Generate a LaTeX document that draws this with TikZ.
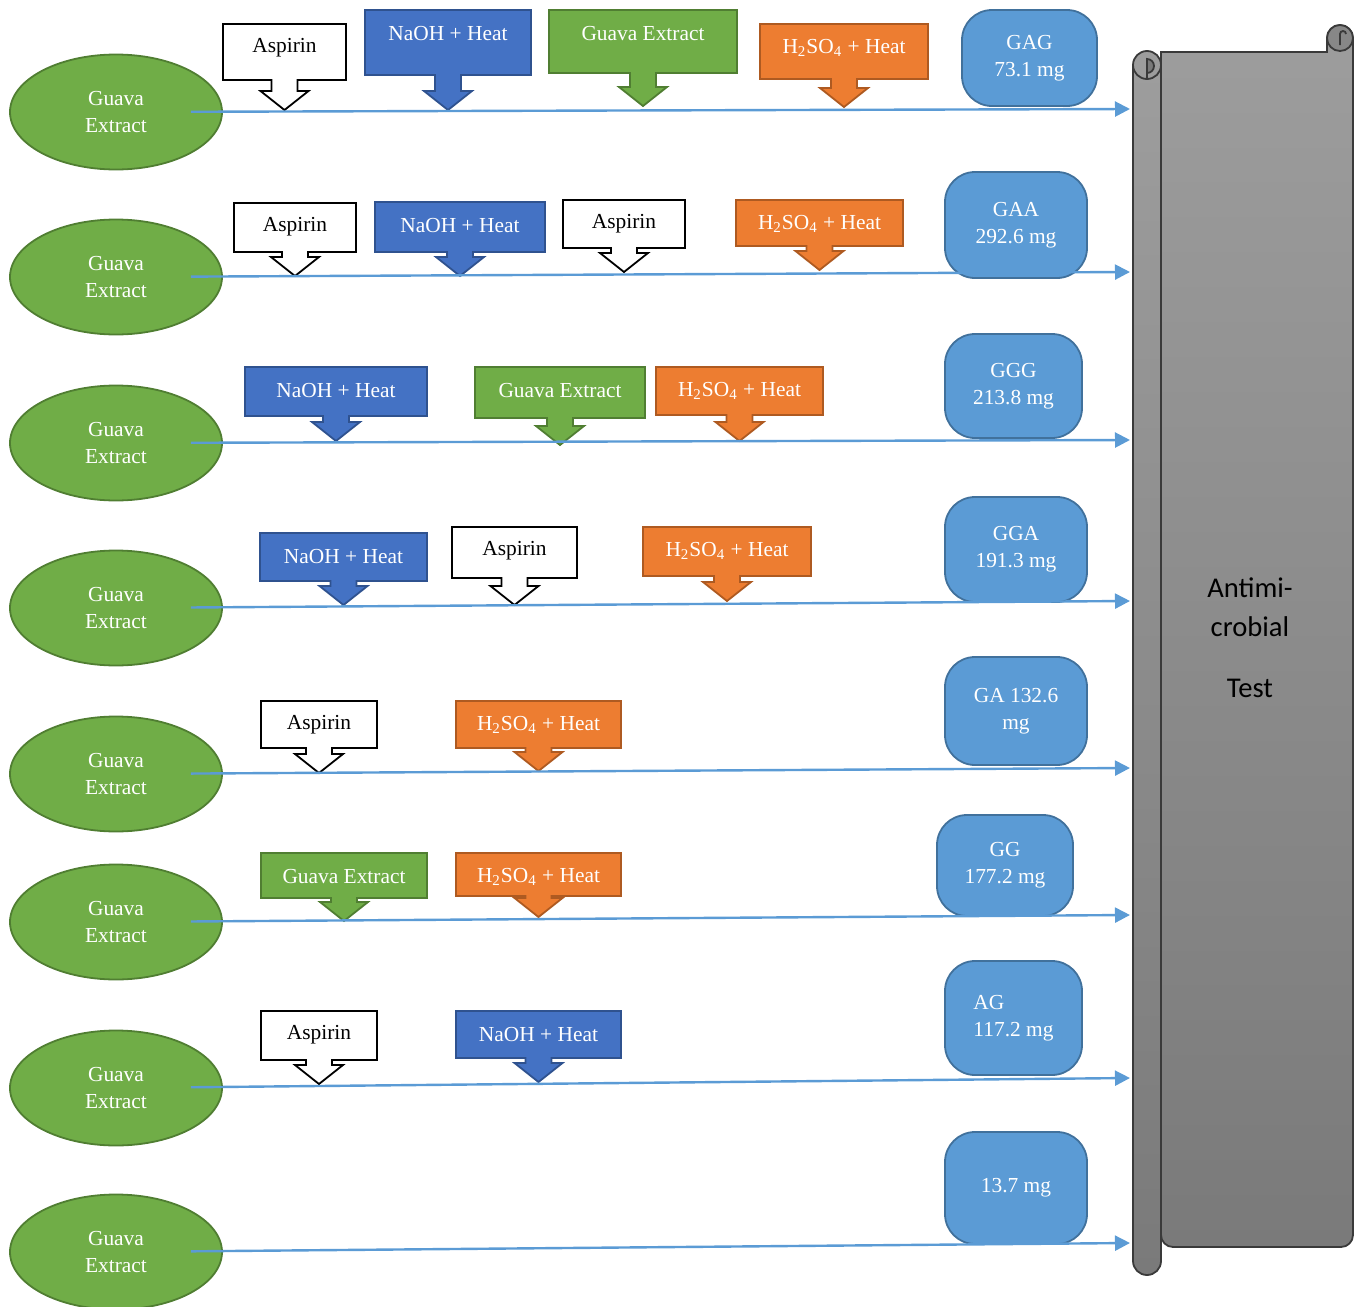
\documentclass[tikz,border=0pt]{standalone}
\usepackage{fontspec}
\setmainfont{Liberation Serif}
\setsansfont{Carlito}
\usepackage{tikz}
\usetikzlibrary{shapes, arrows.meta, positioning}
\usepackage{xcolor}

\definecolor{guavagreen}{HTML}{70AD47}
\definecolor{guavaline}{HTML}{507E32}
\definecolor{naohblue}{HTML}{4472C4}
\definecolor{naohline}{HTML}{2F528F}
\definecolor{acidorange}{HTML}{ED7D31}
\definecolor{acidline}{HTML}{AE5A21}
\definecolor{resblue}{HTML}{5B9BD5}
\definecolor{resline}{HTML}{41719C}
\definecolor{scrolltop}{HTML}{9D9D9D}
\definecolor{scrollbot}{HTML}{7A7A7A}
\definecolor{scrollline}{HTML}{3A3A3A}

% box with a down arrow: style, name, left, top, right, bottom, tip y, text
\newcommand{\callout}[8]{%
  \draw[#1] (#3,#4) -- (#5,#4) -- (#5,#6)
    -- ({(#3+#5)/2+13},#6) -- ({(#3+#5)/2+13},{#7-19})
    -- ({(#3+#5)/2+24},{#7-19}) -- ({(#3+#5)/2},#7)
    -- ({(#3+#5)/2-24},{#7-19}) -- ({(#3+#5)/2-13},{#7-19})
    -- ({(#3+#5)/2-13},#6) -- (#3,#6) -- cycle;
  \node[#1, draw=none, fill=none] (#2) at ({(#3+#5)/2},{#4+24}) {#8};}

\begin{document}
\begin{tikzpicture}[x=0.5pt, y=-0.5pt,
    callbox/.style={line width=0.9pt, text=white, inner sep=0pt, font=\fontsize{10.7}{13.5}\selectfont},
    aspirin/.style={callbox, draw=black, fill=white, text=black},
    naoh/.style={callbox, draw=naohline, fill=naohblue},
    guava/.style={callbox, draw=guavaline, fill=guavagreen},
    acid/.style={callbox, draw=acidline, fill=acidorange},
    source/.style={ellipse, draw=guavaline, fill=guavagreen, line width=0.9pt, minimum width=106pt, minimum height=57.5pt, inner sep=0pt, text=white, align=center, font=\fontsize{10.7}{13.5}\selectfont},
    result/.style={draw=resline, fill=resblue, line width=0.9pt, rounded corners=15pt, inner sep=0pt, text=white, align=center, font=\fontsize{10.7}{13.5}\selectfont},
    flow/.style={draw=resblue, line width=1.2pt, -{Triangle[length=7.5pt, width=7.5pt]}, shorten <=-16pt}]

\useasboundingbox (0,0) rectangle (1362,1307);

% Scroll
\shade[top color=scrolltop, bottom color=scrollbot, draw=scrollline, line width=0.9pt]
  (1161,52) -- (1327,52) -- (1327,38) arc[start angle=180, end angle=360, radius=13]
  -- (1353,600) [rounded corners=6pt] -- (1353,1247) -- (1161,1247) [sharp corners] -- cycle;
\fill[scrollbot!90] (1340,38) circle[radius=13];
\draw[scrollline, line width=0.9pt] (1340,38) circle[radius=13];
\draw[scrollline, line width=0.9pt] (1340,45) -- (1340,34) arc[start angle=180, end angle=360, radius=3];
\shade[top color=scrolltop, bottom color=scrollbot, draw=scrollline, line width=0.9pt]
  (1133,65) -- (1133,1261) arc[start angle=180, end angle=0, radius=14] -- (1161,65);
\draw[fill=scrolltop, draw=scrollline, line width=0.9pt] (1147,65) circle[radius=14];
\filldraw[fill=scrollbot, draw=scrollline, line width=0.9pt]
  (1147,79) -- (1147,59) arc[start angle=270, end angle=450, radius=7] -- cycle;
\node[font=\sffamily\fontsize{14.3}{19.5}\selectfont, align=center] (test) at (1250,638)
  {Antimi-\\crobial\\[11pt]Test};

% Nodes
\node[source] (src1) at (116,112) {Guava\\Extract};
\node[source] (src2) at (116,277) {Guava\\Extract};
\node[source] (src3) at (116,443) {Guava\\Extract};
\node[source] (src4) at (116,608) {Guava\\Extract};
\node[source] (src5) at (116,774) {Guava\\Extract};
\node[source] (src6) at (116,922) {Guava\\Extract};
\node[source] (src7) at (116,1088) {Guava\\Extract};
\node[source] (src8) at (116,1252) {Guava\\Extract};

\node[result, minimum width=67.5pt, minimum height=48pt] (res1) at (1029.5,58) {GAG\\73.1 mg};
\node[result, minimum width=71pt, minimum height=53pt] (res2) at (1016,225) {GAA\\292.6 mg};
\node[result, minimum width=68.5pt, minimum height=52pt] (res3) at (1013.5,386) {GGG\\213.8 mg};
\node[result, minimum width=71pt, minimum height=52.5pt] (res4) at (1016,549.5) {GGA\\191.3 mg};
\node[result, minimum width=71pt, minimum height=54pt] (res5) at (1016,711) {GA 132.6\\mg};
\node[result, minimum width=68pt, minimum height=50.5pt] (res6) at (1005,865.5) {GG\\177.2 mg};
\node[result, minimum width=68.5pt, minimum height=57pt, align=left] (res7) at (1013.5,1018) {AG\\117.2 mg};
\node[result, minimum width=71pt, minimum height=56pt] (res8) at (1016,1188) {13.7 mg};

% Input boxes
\callout{aspirin}{asp1}{223}{24}{346}{80}{110}{Aspirin}
\callout{naoh}{naoh1}{365}{10}{531}{75}{110}{NaOH + Heat}
\callout{guava}{guava1}{549}{10}{737}{73}{106}{Guava Extract}
\callout{acid}{acid1}{760}{24}{928}{79}{107}{H\textsubscript{2}SO\textsubscript{4} + Heat}

\callout{aspirin}{asp2}{234}{203}{356}{252}{276}{Aspirin}
\callout{naoh}{naoh2}{375}{202}{545}{252}{276}{NaOH + Heat}
\callout{aspirin}{asp2b}{563}{200}{685}{248}{272}{Aspirin}
\callout{acid}{acid2}{736}{200}{903}{246}{270}{H\textsubscript{2}SO\textsubscript{4} + Heat}

\callout{naoh}{naoh3}{245}{367}{427}{416}{441}{NaOH + Heat}
\callout{guava}{guava3}{475}{367}{645}{418}{445}{Guava Extract}
\callout{acid}{acid3}{656}{367}{823}{415}{441}{H\textsubscript{2}SO\textsubscript{4} + Heat}

\callout{naoh}{naoh4}{260}{533}{427}{581}{605}{NaOH + Heat}
\callout{aspirin}{asp4}{452}{527}{577}{578}{605}{Aspirin}
\callout{acid}{acid4}{643}{527}{811}{576}{601}{H\textsubscript{2}SO\textsubscript{4} + Heat}

\callout{aspirin}{asp5}{261}{701}{377}{748}{773}{Aspirin}
\callout{acid}{acid5}{456}{701}{621}{748}{771}{H\textsubscript{2}SO\textsubscript{4} + Heat}

\callout{guava}{guava6}{261}{853}{427}{898}{921}{Guava Extract}
\callout{acid}{acid6}{456}{853}{621}{896}{917}{H\textsubscript{2}SO\textsubscript{4} + Heat}

\callout{aspirin}{asp7}{261}{1011}{377}{1060}{1084}{Aspirin}
\callout{naoh}{naoh7}{456}{1011}{621}{1058}{1082}{NaOH + Heat}

% Arrows into the test
\coordinate (end1) at (1130,109);
\coordinate (end2) at (1130,272);
\coordinate (end3) at (1130,440);
\coordinate (end4) at (1130,601);
\coordinate (end5) at (1130,768);
\coordinate (end6) at (1130,915);
\coordinate (end7) at (1130,1078);
\coordinate (end8) at (1130,1243);

\draw[flow] (src1) -- (end1);
\draw[flow] (src2) -- (end2);
\draw[flow] (src3) -- (end3);
\draw[flow] (src4) -- (end4);
\draw[flow] (src5) -- (end5);
\draw[flow] (src6) -- (end6);
\draw[flow] (src7) -- (end7);
\draw[flow] (src8) -- (end8);

\end{tikzpicture}
\end{document}
